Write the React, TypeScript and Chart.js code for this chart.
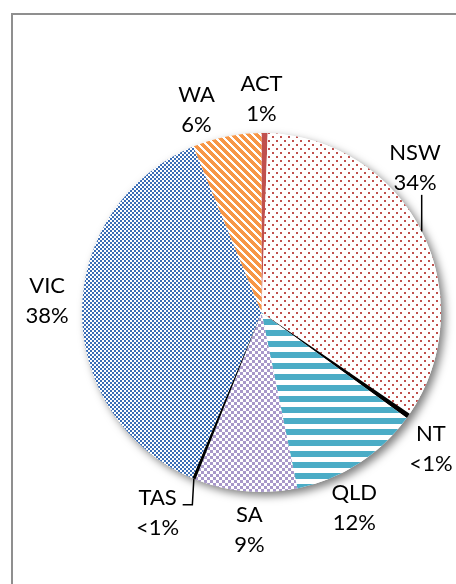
import React, { useEffect, useRef } from "react";
import { Chart, registerables } from "chart.js";

Chart.register(...registerables);

// ---- data ----
const categories = ["ACT", "NSW", "NT", "QLD", "SA", "TAS", "VIC", "WA"];
const shares = [0.55, 34.0, 0.45, 11.8, 9.2, 0.3, 37.5, 6.2];
const shareLabels = ["1%", "34%", "<1%", "12%", "9%", "<1%", "38%", "6%"];

// label placement (polar, relative to pie centre): angle clockwise from top, distance in radii
const labelAngles = [0, 46.7, 128.9, 154.6, 183.2, 207.4, 273.2, 342.2];
const labelDist = [1.19, 1.175, 1.213, 1.205, 1.213, 1.257, 1.196, 1.184];

function makePattern(w: number, h: number, draw: (c: CanvasRenderingContext2D) => void): CanvasPattern {
  const cv = document.createElement("canvas");
  cv.width = w;
  cv.height = h;
  const c = cv.getContext("2d")!;
  c.fillStyle = "#ffffff";
  c.fillRect(0, 0, w, h);
  draw(c);
  return c.createPattern(cv, "repeat")!;
}

function buildFills(): (CanvasPattern | string)[] {
  const red = "#C0504D";
  const act = red;
  const nsw = makePattern(8, 8, (c) => {
    c.fillStyle = red;
    c.fillRect(0, 0, 2, 2);
    c.fillRect(4, 4, 2, 2);
  });
  const nt = "#000000";
  const qld = makePattern(8, 11, (c) => {
    c.fillStyle = "#4BACC6";
    c.fillRect(0, 0, 8, 6);
  });
  const sa = makePattern(6, 6, (c) => {
    c.fillStyle = "#A898CA";
    c.fillRect(0, 0, 3, 3);
    c.fillRect(3, 3, 3, 3);
  });
  const tas = "#000000";
  const vic = makePattern(4, 4, (c) => {
    c.fillStyle = "#3A6DB5";
    c.fillRect(0, 0, 2, 2);
    c.fillRect(2, 2, 2, 2);
  });
  const wa = makePattern(8, 8, (c) => {
    c.fillStyle = "#F79646";
    for (let y = 0; y < 8; y++) {
      for (let x = 0; x < 8; x++) {
        if (((x - y) % 8 + 8) % 8 < 5) c.fillRect(x, y, 1, 1);
      }
    }
  });
  return [act, nsw, nt, qld, sa, tas, vic, wa];
}

const shadowPlugin = {
  id: "pieShadow",
  beforeDatasetsDraw(chart: any) {
    const meta = chart.getDatasetMeta(0);
    const a = meta.data[0];
    if (!a) return;
    const ctx = chart.ctx;
    ctx.save();
    ctx.shadowColor = "rgba(0,0,0,0.5)";
    ctx.shadowBlur = 9;
    ctx.shadowOffsetX = 4;
    ctx.shadowOffsetY = 4;
    ctx.fillStyle = "#ffffff";
    ctx.beginPath();
    ctx.arc(a.x, a.y, a.outerRadius, 0, Math.PI * 2);
    ctx.fill();
    ctx.restore();
  },
};

const labelPlugin = {
  id: "pieLabels",
  afterDatasetsDraw(chart: any) {
    const meta = chart.getDatasetMeta(0);
    const a0 = meta.data[0];
    if (!a0) return;
    const cx = a0.x;
    const cy = a0.y;
    const R = a0.outerRadius;
    const ctx = chart.ctx;
    ctx.save();
    ctx.font = "22px Lato, 'Open Sans', sans-serif";
    ctx.textAlign = "center";
    ctx.textBaseline = "middle";
    ctx.fillStyle = "#000000";
    const pos: { x: number; y: number }[] = [];
    categories.forEach((cat, i) => {
      const ang = (labelAngles[i] * Math.PI) / 180;
      const d = labelDist[i] * R;
      const lx = cx + d * Math.sin(ang);
      const ly = cy - d * Math.cos(ang);
      pos.push({ x: lx, y: ly });
      ctx.fillText(cat, lx, ly - 15);
      ctx.fillText(shareLabels[i], lx, ly + 15);
    });
    // leader lines
    ctx.strokeStyle = "#000000";
    ctx.lineWidth = 1.5;
    const edge = (i: number) => {
      const arc = meta.data[i];
      const mid = (arc.startAngle + arc.endAngle) / 2;
      return { x: cx + R * Math.cos(mid), y: cy + R * Math.sin(mid) };
    };
    // NSW
    {
      const e = edge(1);
      ctx.beginPath();
      ctx.moveTo(e.x, e.y);
      ctx.lineTo(e.x, pos[1].y + 27);
      ctx.stroke();
    }
    // TAS
    {
      const e = edge(5);
      const hy = pos[5].y - 8;
      ctx.beginPath();
      ctx.moveTo(e.x, e.y);
      ctx.lineTo(e.x - 1.5, hy);
      ctx.lineTo(pos[5].x + 25, hy);
      ctx.stroke();
    }
    ctx.restore();
  },
};

export default function App() {
  const canvasRef = useRef<HTMLCanvasElement | null>(null);

  useEffect(() => {
    const canvas = canvasRef.current;
    if (!canvas) return;
    const chart = new Chart(canvas, {
      type: "pie",
      data: {
        labels: categories,
        datasets: [
          {
            data: shares,
            backgroundColor: buildFills() as any,
            borderWidth: 0,
          },
        ],
      },
      options: {
        responsive: false,
        animation: false,
        devicePixelRatio: 1,
        layout: { padding: { left: 82, right: 15, top: 133, bottom: 92 } },
        plugins: {
          legend: { display: false },
          tooltip: { enabled: false },
        },
      },
      plugins: [shadowPlugin, labelPlugin],
    });
    return () => chart.destroy();
  }, []);

  return (
    <div>
      <div
        style={{
          position: "fixed",
          left: 11,
          top: 13,
          width: 445,
          height: 571,
          boxSizing: "border-box",
          borderTop: "2px solid #8f8f8f",
          borderLeft: "2px solid #8f8f8f",
        }}
      />
      <canvas
        ref={canvasRef}
        width={456}
        height={584}
        style={{ position: "fixed", left: 0, top: 0, width: 456, height: 584 }}
      />
    </div>
  );
}
